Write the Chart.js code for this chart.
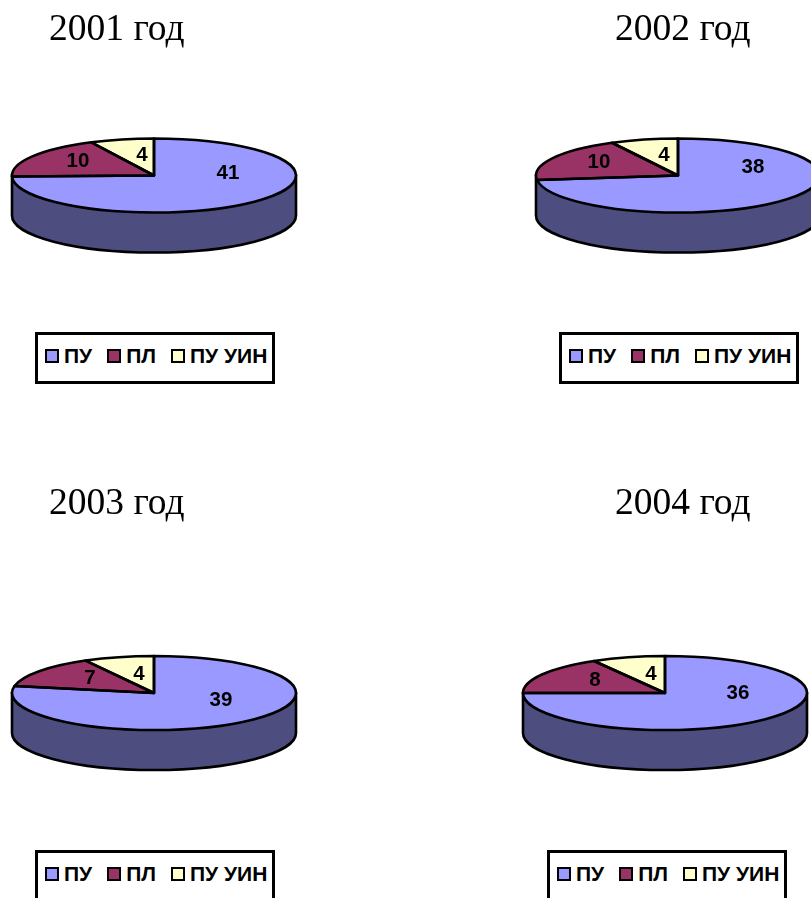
<!DOCTYPE html>
<html>
<head>
<meta charset="utf-8">
<title>ПУ, ПЛ, ПУ УИН</title>
<script src="https://cdn.jsdelivr.net/npm/chart.js@4"></script>
<style>
    html, body { margin: 0; padding: 0; background: #fff; }
    #page { position: relative; width: 811px; height: 898px; overflow: hidden; }
    .panel { position: absolute; }
    .legenda {
        position: absolute; box-sizing: border-box; width: 240px; height: 52px;
        border: 3px solid #000; background: #fff; display: flex; align-items: center;
        padding: 0 0 4px 7px;
        font: bold 21px "Liberation Sans", Arial, sans-serif; color: #000;
    }
    .legenda span.caixa {
        display: inline-block; box-sizing: border-box; width: 14px; height: 14px;
        border: 2px solid #000; margin-right: 5px; flex: none;
    }
    .legenda span.texto { margin-right: 15px; white-space: nowrap; }
</style>
</head>
<body>
<div id="page"></div>
<script>
const categorias = ["ПУ", "ПЛ", "ПУ УИН"];
const anos = ["2001 год", "2002 год", "2003 год", "2004 год"];
const valores2001 = [41, 10, 4];
const valores2002 = [38, 10, 4];
const valores2003 = [39, 7, 4];
const valores2004 = [36, 8, 4];
const cores = ["#9999FF", "#993366", "#FFFFCC"];
const corLateral = "#4D4D80";

// posicoes de cada painel (centro da pizza, titulo, legenda, rotulos)
const paineis = [
    { valores: valores2001, titulo: anos[0], left: 0, top: 0, w: 405, h: 449, cx: 154, cy: 175.5, tituloX: 49, tituloY: 8, legX: 35, legY: 332,
      rotulos: [[74, -2], [-76, -14], [-12, -20]] },
    { valores: valores2002, titulo: anos[1], left: 405, top: 0, w: 406, h: 449, cx: 678, cy: 175.5, tituloX: 615, tituloY: 8, legX: 559, legY: 332,
      rotulos: [[75, -8], [-79, -13], [-14, -20]] },
    { valores: valores2003, titulo: anos[2], left: 0, top: 449, w: 405, h: 449, cx: 154, cy: 693, tituloX: 49, tituloY: 33, legX: 35, legY: 850,
      rotulos: [[67, 7], [-64, -15], [-15, -19]] },
    { valores: valores2004, titulo: anos[3], left: 405, top: 449, w: 406, h: 449, cx: 665, cy: 693, tituloX: 615, tituloY: 33, legX: 547, legY: 850,
      rotulos: [[73, 0], [-70, -13], [-14, -19]] },
];

const raioX = 142;
const raioY = 37;
const profundidade = 40;
const espessura = 2.6;

// achata a pizza em elipse e desenha a lateral por baixo
const pizza3d = {
    id: "pizza3d",
    beforeDatasetsDraw(chart, args, opts) {
        const ctx = chart.ctx;
        const arco = chart.getDatasetMeta(0).data[0];
        const cx = opts.cx;
        const cy = opts.cy;

        ctx.save();
        ctx.beginPath();
        ctx.moveTo(cx - raioX, cy);
        ctx.lineTo(cx - raioX, cy + profundidade);
        ctx.ellipse(cx, cy + profundidade, raioX, raioY, 0, Math.PI, 0, true);
        ctx.lineTo(cx + raioX, cy);
        ctx.closePath();
        ctx.fillStyle = corLateral;
        ctx.fill();
        ctx.lineWidth = espessura;
        ctx.strokeStyle = "#000";
        ctx.stroke();
        ctx.restore();

        ctx.save();
        ctx.translate(cx, cy);
        ctx.scale(1, raioY / raioX);
        ctx.translate(-arco.x, -arco.y);
    },
    afterDatasetsDraw(chart, args, opts) {
        const ctx = chart.ctx;
        ctx.restore();

        const cx = opts.cx;
        const cy = opts.cy;
        const arcos = chart.getDatasetMeta(0).data;

        ctx.save();
        ctx.lineWidth = espessura;
        ctx.strokeStyle = "#000";
        ctx.lineJoin = "round";
        arcos.forEach((arco) => {
            ctx.beginPath();
            ctx.moveTo(cx, cy);
            ctx.ellipse(cx, cy, raioX, raioY, 0, arco.startAngle, arco.endAngle);
            ctx.closePath();
            ctx.stroke();
        });

        ctx.font = 'bold 20.5px "Liberation Sans", Arial, sans-serif';
        ctx.fillStyle = "#000";
        ctx.textAlign = "center";
        ctx.textBaseline = "middle";
        chart.data.datasets[0].data.forEach((valor, i) => {
            ctx.fillText(valor, cx + opts.rotulos[i][0], cy + opts.rotulos[i][1]);
        });
        ctx.restore();
    },
};

const criarLegenda = (painel, chart) => {
    const legenda = document.createElement("div");
    legenda.className = "legenda";
    legenda.style.left = painel.legX + "px";
    legenda.style.top = painel.legY + "px";

    chart.data.labels.forEach((rotulo, i) => {
        const caixa = document.createElement("span");
        caixa.className = "caixa";
        caixa.style.background = cores[i];
        const texto = document.createElement("span");
        texto.className = "texto";
        texto.textContent = rotulo;
        legenda.appendChild(caixa);
        legenda.appendChild(texto);
    });
    document.getElementById("page").appendChild(legenda);
};

const criarPainel = (painel) => {
    const caixa = document.createElement("div");
    caixa.className = "panel";
    caixa.style.left = painel.left + "px";
    caixa.style.top = painel.top + "px";
    caixa.style.width = painel.w + "px";
    caixa.style.height = painel.h + "px";
    const canvas = document.createElement("canvas");
    caixa.appendChild(canvas);
    document.getElementById("page").appendChild(caixa);

    const chart = new Chart(canvas.getContext("2d"), {
        type: "pie",
        data: {
            labels: categorias,
            datasets: [
                {
                    data: painel.valores,
                    backgroundColor: cores,
                    borderWidth: 0,
                    radius: raioX,
                },
            ],
        },
        options: {
            responsive: true,
            maintainAspectRatio: false,
            animation: false,
            layout: {
                padding: { left: painel.tituloX - painel.left, top: painel.tituloY },
            },
            plugins: {
                legend: { display: false },
                tooltip: { enabled: false },
                title: {
                    display: true,
                    text: painel.titulo,
                    align: "start",
                    color: "#000",
                    padding: 0,
                    font: { family: '"Liberation Serif", "Times New Roman", serif', size: 37.5, weight: "normal" },
                },
                pizza3d: {
                    cx: painel.cx - painel.left,
                    cy: painel.cy - painel.top,
                    rotulos: painel.rotulos,
                },
            },
        },
        plugins: [pizza3d],
    });

    criarLegenda(painel, chart);
};

paineis.forEach(criarPainel);
</script>
</body>
</html>
